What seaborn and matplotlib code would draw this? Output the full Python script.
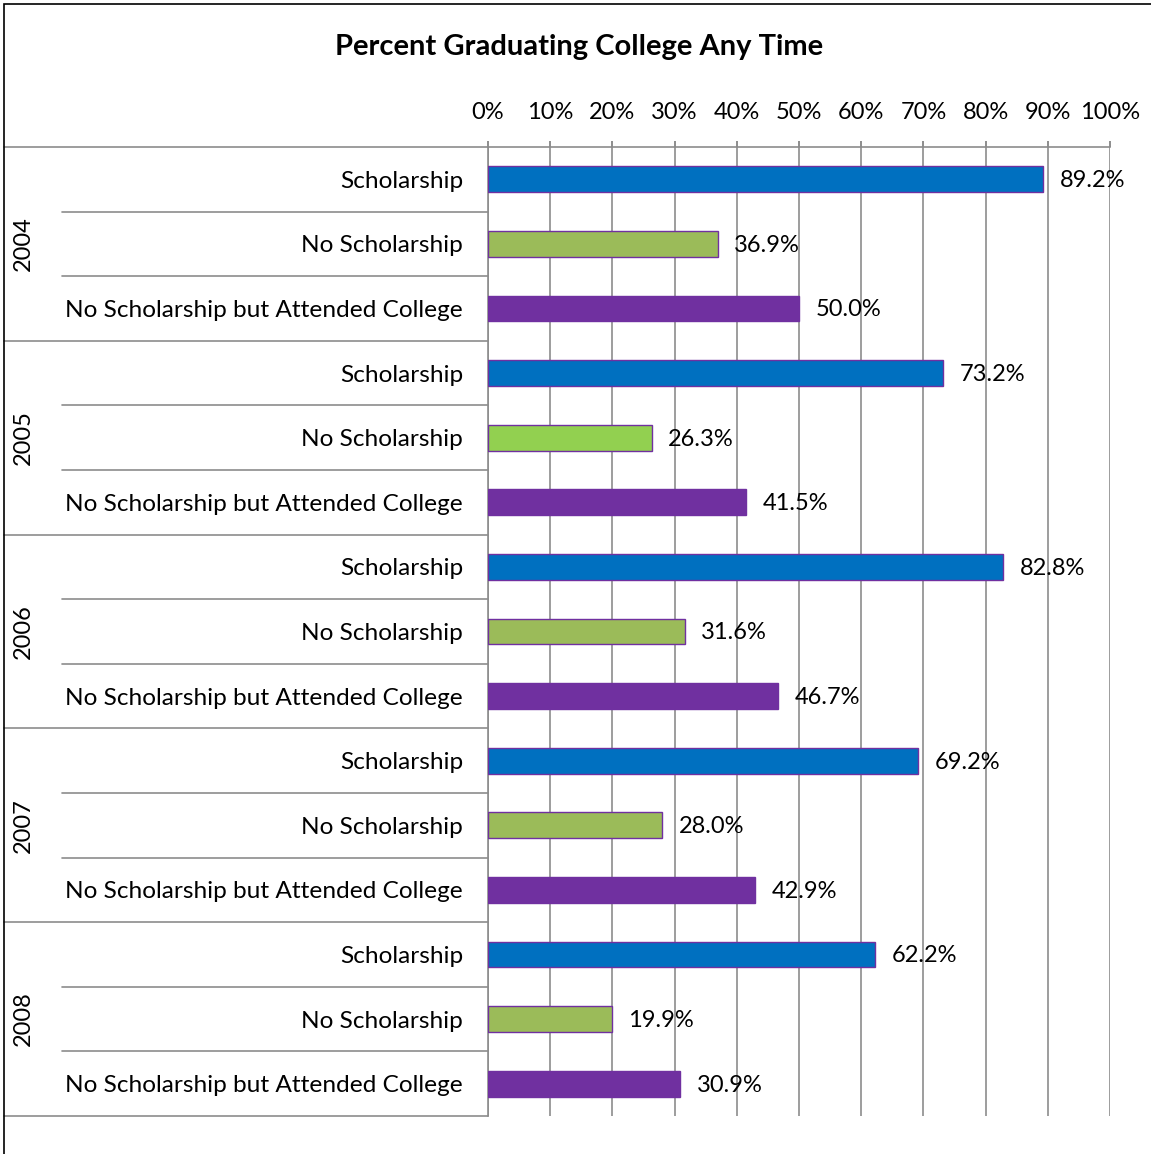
import matplotlib
matplotlib.use("Agg")
import matplotlib.pyplot as plt
import matplotlib.transforms as mtransforms
from matplotlib.patches import Rectangle
import seaborn as sns
import pandas as pd

years = ["2004", "2005", "2006", "2007", "2008"]
groups = ["Scholarship", "No Scholarship", "No Scholarship but Attended College"]
scholarship = [89.2, 73.2, 82.8, 69.2, 62.2]
no_scholarship = [36.9, 26.3, 31.6, 28.0, 19.9]
no_sch_attended = [50.0, 41.5, 46.7, 42.9, 30.9]
x_ticks = [0, 10, 20, 30, 40, 50, 60, 70, 80, 90, 100]
title = "Percent Graduating College Any Time"

col_blue = "#0070C0"
col_green = "#9BBB59"
col_green_bright = "#92D050"
col_purple = "#7030A0"

rows, vals, cols = [], [], []
for i, y in enumerate(years):
    for g, series in zip(groups, [scholarship, no_scholarship, no_sch_attended]):
        rows.append(f"{y}|{g}")
        vals.append(series[i])
        if g == "Scholarship":
            cols.append(col_blue)
        elif g == "No Scholarship":
            cols.append(col_green_bright if y == "2005" else col_green)
        else:
            cols.append(col_purple)
df = pd.DataFrame({"row": rows, "value": vals})

sns.set_theme(style="white")
plt.rcParams["font.family"] = ["Lato", "DejaVu Sans"]

FS = 17
W, H = 1151, 1154
fig = plt.figure(figsize=(W / 100, H / 100), dpi=100)
ax_l, ax_r, ax_t, ax_b = 488, 1110, 147, 1116
ax = fig.add_axes([ax_l / W, 1 - ax_b / H, (ax_r - ax_l) / W, (ax_b - ax_t) / H])

sns.barplot(data=df, x="value", y="row", hue="row", palette=cols, legend=False,
            orient="h", width=0.4, ax=ax, edgecolor=col_purple, linewidth=1.0,
            saturation=1, zorder=3)

ax.set_xlim(0, 100)
ax.set_ylim(len(rows) - 0.5, -0.5)
ax.set_xticks(x_ticks)
ax.set_xticklabels([f"{t}%" for t in x_ticks])
ax.xaxis.tick_top()
ax.tick_params(axis="x", which="both", top=True, bottom=False, labeltop=True,
               labelbottom=False, direction="out", length=4, color="#808080",
               pad=13, labelsize=FS, labelcolor="black")
ax.set_yticks(range(len(rows)))
ax.set_yticklabels([r.split("|")[1] for r in rows])
ax.tick_params(axis="y", length=0, pad=18, labelsize=17.6, labelcolor="black")
ax.set_xlabel("")
ax.set_ylabel("")
ax.grid(axis="x", color="#8c8c8c", linewidth=1.2, zorder=0)
ax.set_axisbelow(True)
for s in ["right", "bottom"]:
    ax.spines[s].set_visible(False)
for s in ["top", "left"]:
    ax.spines[s].set_color("#8c8c8c")
    ax.spines[s].set_linewidth(1.2)

# value labels
for p, v in zip(ax.patches, vals):
    ax.annotate(f"{v:.1f}%", xy=(p.get_x() + p.get_width(), p.get_y() + p.get_height() / 2),
                xytext=(12, -1), textcoords="offset points", va="center", ha="left",
                fontsize=FS, color="black", zorder=5)

# separator lines in left label area
trans = mtransforms.blended_transform_factory(fig.transFigure, ax.transData)
n = len(rows)
for k in range(n + 1):
    yb = k - 0.5
    x0 = 4 / W if k % 3 == 0 else 62 / W
    ax.plot([x0, ax_l / W], [yb, yb], transform=trans, color="#8c8c8c",
            linewidth=1.2, clip_on=False, zorder=1)

# year labels
for i, y in enumerate(years):
    ax.text(23 / W, 3 * i + 1, y, transform=trans, rotation=90, ha="center",
            va="center", fontsize=FS, color="black")

fig.text(579 / W, 1 - 47 / H, title, ha="center", va="center", fontsize=21,
         fontweight="bold", color="black")

# outer frame
fig.patches.append(Rectangle((4 / W, -0.01), 1.02, 1 - 4 / H + 0.01, transform=fig.transFigure,
                             fill=False, edgecolor="black", linewidth=1.2))

fig.savefig("out.png", dpi=100, facecolor="white")
